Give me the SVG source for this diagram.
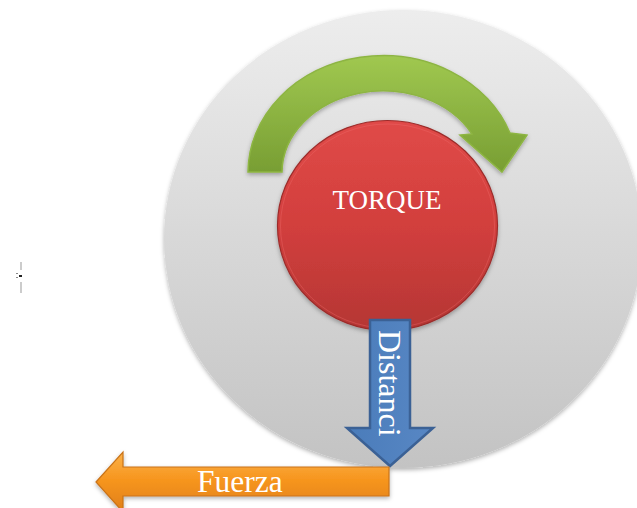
<svg xmlns="http://www.w3.org/2000/svg" width="637" height="508" viewBox="0 0 637 508">
<style>
.lbl{font-family:"Liberation Serif","Times New Roman",serif;fill:#ffffff}
</style>
<defs>
<linearGradient id="gGray" x1="0" y1="0" x2="0" y2="1">
<stop offset="0" stop-color="#ededed"/>
<stop offset="1" stop-color="#c3c3c3"/>
</linearGradient>
<linearGradient id="gRed" x1="0" y1="0" x2="0" y2="1">
<stop offset="0" stop-color="#e04a48"/>
<stop offset="0.5" stop-color="#d23f3d"/>
<stop offset="1" stop-color="#b53634"/>
</linearGradient>
<linearGradient id="gGreen" x1="0" y1="0" x2="0" y2="1">
<stop offset="0" stop-color="#a0c850"/>
<stop offset="1" stop-color="#789e33"/>
</linearGradient>
<linearGradient id="gBlue" x1="0" y1="0" x2="1" y2="0">
<stop offset="0" stop-color="#4a7cba"/>
<stop offset="1" stop-color="#5887c4"/>
</linearGradient>
<linearGradient id="gOrange" x1="0" y1="0" x2="0" y2="1">
<stop offset="0" stop-color="#fbb24a"/>
<stop offset="0.45" stop-color="#f7961f"/>
<stop offset="1" stop-color="#e07f18"/>
</linearGradient>
<filter id="sh" x="-10%" y="-10%" width="120%" height="125%">
<feDropShadow dx="0" dy="2" stdDeviation="2" flood-color="#000" flood-opacity="0.3"/>
</filter>
</defs>

<g id="tiny-mark">
<rect x="20.5" y="262" width="1" height="8" fill="#999"/>
<rect x="16" y="273" width="2" height="1" fill="#888"/>
<rect x="19" y="275" width="3" height="2" fill="#222"/>
<rect x="16" y="277" width="2" height="1" fill="#888"/>
<rect x="20.5" y="282" width="1" height="11" fill="#999"/>
</g>

<g id="background-circle">
<ellipse cx="403" cy="239" rx="239" ry="229" fill="url(#gGray)" filter="url(#sh)"/>
</g>

<g id="rotation-arrow">
<path d="M248,172 A135,117 0 0 1 510,133 L527,135 L502,172 L460,135 L472,134 A101,82 0 0 0 282,172 Z" fill="url(#gGreen)" stroke="#8db542" stroke-width="1.5" filter="url(#sh)"/>
</g>

<g id="torque">
<ellipse cx="387.5" cy="225.5" rx="110" ry="105" fill="url(#gRed)" stroke="#9c2c2a" stroke-width="1.2" filter="url(#sh)"/>
<ellipse cx="387.5" cy="226" rx="107" ry="102" fill="none" stroke="#f07070" stroke-width="1" stroke-opacity="0.35"/>
<text class="lbl" x="387" y="209" font-size="27" text-anchor="middle">TORQUE</text>
</g>

<g id="distancia">
<polygon points="370,320 410,320 410,428 433,428 390,466 347,428 370,428" fill="url(#gBlue)" stroke="#3b6195" stroke-width="2.5" stroke-linejoin="miter"/>
<text class="lbl" transform="translate(379,330) rotate(90)" font-size="32">Distanci</text>
</g>

<g id="fuerza">
<polygon points="96,482 123,452 123,467 389,467 389,496 123,496 123,512" fill="url(#gOrange)" stroke="#c9731a" stroke-width="1.2" filter="url(#sh)"/>
<text class="lbl" x="197" y="492" font-size="31.5">Fuerza</text>
</g>
</svg>
